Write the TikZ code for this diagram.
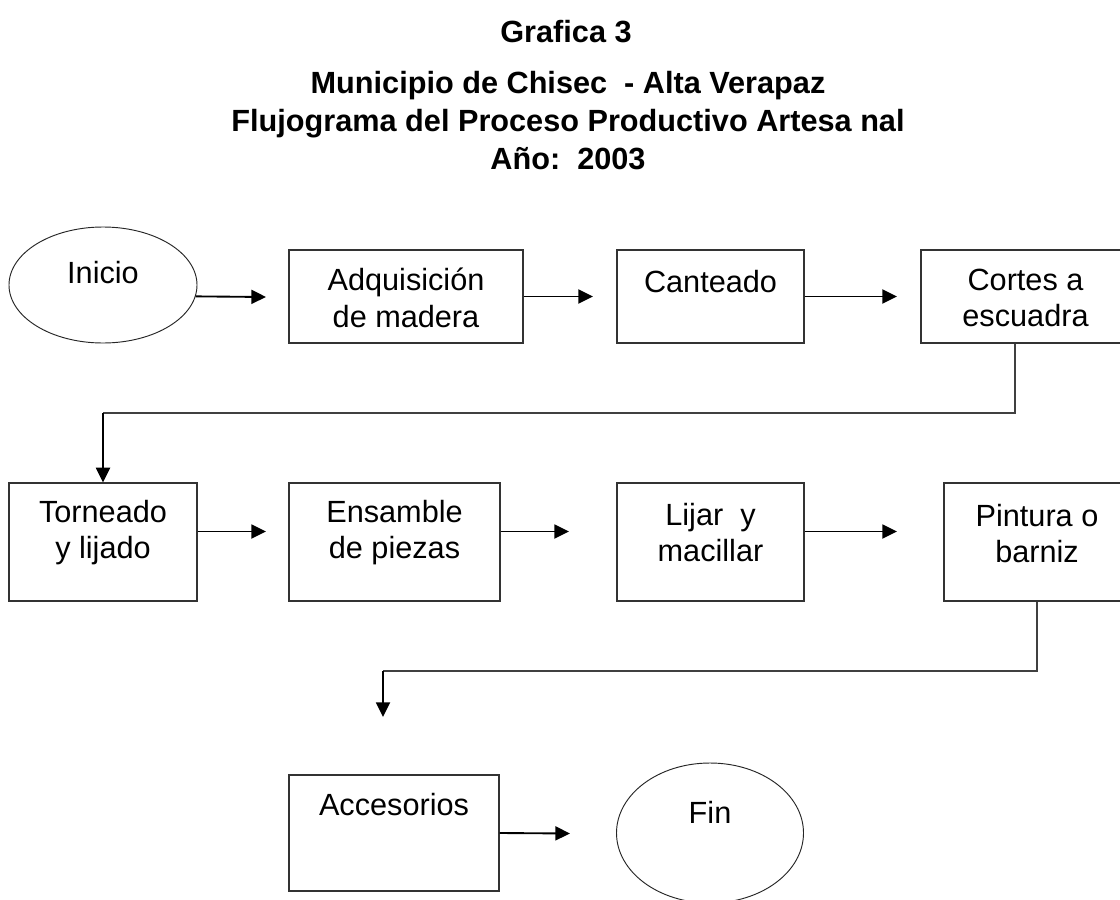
\documentclass[tikz,border=0pt]{standalone}
\usepackage{fontspec}
\setmainfont{Liberation Sans}
\usetikzlibrary{arrows.meta,shapes.geometric,calc}
\begin{document}
\begin{tikzpicture}[x=0.75pt,y=-0.75pt,
  every node/.style={font=\fontsize{23}{27.5}\selectfont},
  box/.style={draw=black!80, line width=0.9pt, rectangle, inner sep=0pt},
  oval/.style={draw=black!85, line width=0.7pt, ellipse, inner sep=0pt},
  lbl/.style={align=center, inner sep=0pt},
  ttl/.style={font=\fontsize{23}{28.5}\selectfont\bfseries, align=center, inner sep=0pt},
  arr/.style={draw=black, line width=1.4pt, -{Triangle[length=11pt,width=10.5pt]}},
  elbow/.style={draw=black!75, line width=0.8pt}]
\useasboundingbox (0,0) rectangle (1120,899);
\fill[white] (0,0) rectangle (1120,899);
\clip (0,0) rectangle (1120,899);

% titles
\node[ttl] (g3) at (566,32) {Grafica 3};
\node[ttl] (tt) at (568,121) {Municipio de Chisec\ \ - Alta Verapaz\\Flujograma del Proceso Productivo Artesa nal\\Año:\ \ 2003};

% row 1
\node[oval, minimum width=141pt, minimum height=87pt] (ini) at (103,285) {};
\node[lbl] (iniT) at (103,273) {Inicio};
\node[box, minimum width=175.5pt, minimum height=69.75pt] (adq) at (406,296.5) {};
\node[lbl] (adqT) at (406,298) {Adquisición\\de madera};
\node[box, minimum width=140.25pt, minimum height=69.75pt] (can) at (710.5,296.5) {};
\node[lbl] (canT) at (710.5,282) {Canteado};
\node[box, minimum width=156.75pt, minimum height=69.75pt] (cor) at (1025.5,296.5) {};
\node[lbl] (corT) at (1025.5,298) {Cortes a\\escuadra};

% row 2
\node[box, minimum width=141pt, minimum height=88.5pt] (tor) at (103,542) {};
\node[lbl] (torT) at (103,532.5) {Torneado\\y lijado};
\node[box, minimum width=158.25pt, minimum height=88.5pt] (ens) at (394.5,542) {};
\node[lbl] (ensT) at (394.5,532.5) {Ensamble\\de piezas};
\node[box, minimum width=140.25pt, minimum height=88.5pt] (lij) at (710.5,542) {};
\node[lbl] (lijT) at (710.5,532.5) {Lijar\ \ y\\macillar};
\node[box, minimum width=139.5pt, minimum height=88.5pt] (pin) at (1037,542) {};
\node[lbl] (pinT) at (1037,533.5) {Pintura o\\barniz};

% row 3
\node[box, minimum width=157.5pt, minimum height=87pt] (acc) at (394,833) {};
\node[lbl] (accT) at (394,805) {Accesorios};
\node[oval, minimum width=140.25pt, minimum height=105pt] (fin) at (710,833) {};
\node[lbl] (finT) at (710,812) {Fin};

% free ends and bends
\coordinate (a1) at (266,297);
\coordinate (a2) at (593,296.5);
\coordinate (a3) at (897,296.5);
\coordinate (b1) at (266,531.5);
\coordinate (b2) at (569,531.5);
\coordinate (b3) at (897,531.5);
\coordinate (c1) at (570,833.5);
\coordinate (k1) at (1015,413);
\coordinate (k2) at (103,413);
\coordinate (m1) at (1037,671);
\coordinate (m2) at (383,671);
\coordinate (m3) at (383,717);

% connectors
\draw[arr] (ini.-7.4) -- (a1);
\draw[arr] (adq.east) -- (a2);
\draw[arr] (can.east) -- (a3);
\draw[elbow] (cor.south -| k1) -- (k1) -- (k2);
\draw[arr] (k2) -- (tor.north);
\draw[arr] (tor.east |- b1) -- (b1);
\draw[arr] (ens.east |- b2) -- (b2);
\draw[arr] (lij.east |- b3) -- (b3);
\draw[elbow] (pin.south) -- (m1) -- (m2);
\draw[arr] (m2) -- (m3);
\draw[arr] (acc.east) -- (c1);
\end{tikzpicture}
\end{document}
